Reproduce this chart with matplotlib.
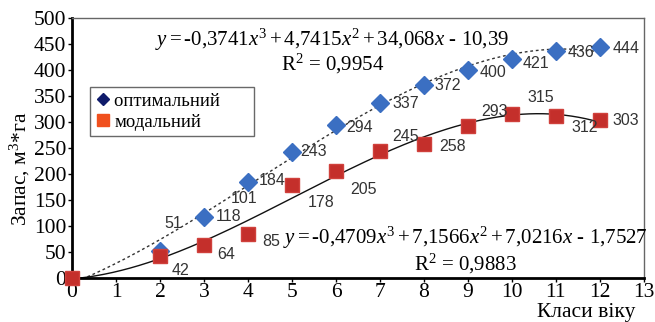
import matplotlib
matplotlib.use('Agg')
import matplotlib.pyplot as plt
import numpy as np
from matplotlib.lines import Line2D

# data
opt_x = [2, 3, 4, 5, 6, 7, 8, 9, 10, 11, 12]
opt_y = [51, 118, 184, 243, 294, 337, 372, 400, 421, 436, 444]
opt_labels = ['51', '118', '184', '243', '294', '337', '372', '400', '421', '436', '444']
mod_x = [0, 2, 3, 4, 5, 6, 7, 8, 9, 10, 11, 12]
mod_y = [0, 42, 64, 85, 178, 205, 245, 258, 293, 315, 312, 303]
mod_labels = ['', '42', '64', '85', '178', '205', '245', '258', '293', '315', '312', '303']
opt_coef = [-0.3741, 4.7415, 34.068, -10.39]
mod_coef = [-0.4709, 7.1566, 7.0216, -1.7527]

# label offsets in pixels (dx, dy)
opt_off = [(13, 28), (25, 0), (24, 2), (22, 0), (24, -2), (26, -1), (24, -1), (25, -2), (24, -4), (25, -1), (26, -1)]
mod_off = [(0, 0), (20, -14), (22, -10), (23, -8), (29, -17), (28, -18), (26, 14), (29, -3), (27, 14), (29, 17), (29, -12), (26, 0)]

plt.rcParams['font.family'] = ['Liberation Serif', 'DejaVu Serif']
plt.rcParams['mathtext.fontset'] = 'custom'
plt.rcParams['mathtext.rm'] = 'Liberation Serif'
plt.rcParams['mathtext.it'] = 'Liberation Serif:italic'

fig = plt.figure(figsize=(6.55, 3.22), dpi=100)
ax = fig.add_axes([0.11, 0.137, 0.873, 0.807])

xs = np.linspace(0, 12, 300)
ax.plot(xs, np.polyval(opt_coef, xs), color='#333333', lw=1, ls=(0, (2, 2)), zorder=2)
ax.plot(xs, np.polyval(mod_coef, xs), color='#111111', lw=1, zorder=2)

ax.plot(opt_x, opt_y, 'D', color='#3B6FC2', ms=9, mec='#3B6FC2', zorder=3, clip_on=False)
ax.plot(mod_x, mod_y, 's', color='#C42F2B', ms=10.5, mec='#D0413C', zorder=3, clip_on=False)

lab_font = dict(family=['Liberation Sans', 'DejaVu Sans'], fontsize=11.5, color='#333333')
for x, y, t, o in zip(opt_x, opt_y, opt_labels, opt_off):
    ax.annotate(t, (x, y), xytext=o, textcoords='offset pixels', ha='center', va='center', **lab_font)
ax.annotate('101', (4, 184), xytext=(-4, -16), textcoords='offset pixels', ha='center', va='center', **lab_font)
for x, y, t, o in zip(mod_x, mod_y, mod_labels, mod_off):
    if t:
        ax.annotate(t, (x, y), xytext=o, textcoords='offset pixels', ha='center', va='center',
                    bbox=dict(boxstyle='square,pad=0.1', fc='white', ec='none') if t == '178' else None,
                    **lab_font)

eq_fs = 15
ax.text(1.88, 458, r'$y = $-0,3741$x^3 + $4,7415$x^2 + $34,068$x$ - 10,39', fontsize=eq_fs, va='center', ha='left')
ax.text(5.93, 411, r'R$^2$ = 0,9954', fontsize=eq_fs, va='center', ha='center')
ax.text(4.8, 76, r'$y = $-0,4709$x^3 + $7,1566$x^2 + $7,0216$x$ - 1,7527', fontsize=eq_fs, va='center', ha='left')
ax.text(8.94, 27, r'R$^2$ = 0,9883', fontsize=eq_fs, va='center', ha='center')

ax.set_xlim(0, 13)
ax.set_ylim(0, 500)
ax.set_xticks(range(0, 14))
ax.set_yticks(range(0, 501, 50))
ax.tick_params(labelsize=15.5, length=3, width=1, pad=1)
for s in ['left', 'bottom']:
    ax.spines[s].set_linewidth(2)
for s in ['top', 'right']:
    ax.spines[s].set_linewidth(1)
    ax.spines[s].set_color('#666666')

ax.set_ylabel('Запас, м$^3$*га', fontsize=15.5, labelpad=0)
ax.yaxis.set_label_coords(-0.07, 0.42)
fig.text(0.895, 0.03, 'Класи віку', fontsize=15.5, ha='center', va='center')

handles = [Line2D([], [], marker='D', color='#0F1B6B', ls='none', ms=6),
           Line2D([], [], marker='s', color='#F0501E', ls='none', ms=8)]
ax.legend(handles, ['оптимальний      ', 'модальний'], loc='upper left', bbox_to_anchor=(0.031, 0.735),
          fontsize=13.5, frameon=True, fancybox=False, edgecolor='#444444', handletextpad=0.2,
          handlelength=0.8, borderpad=0.3, labelspacing=0.2, borderaxespad=0)

fig.savefig('out.png', dpi=100)
